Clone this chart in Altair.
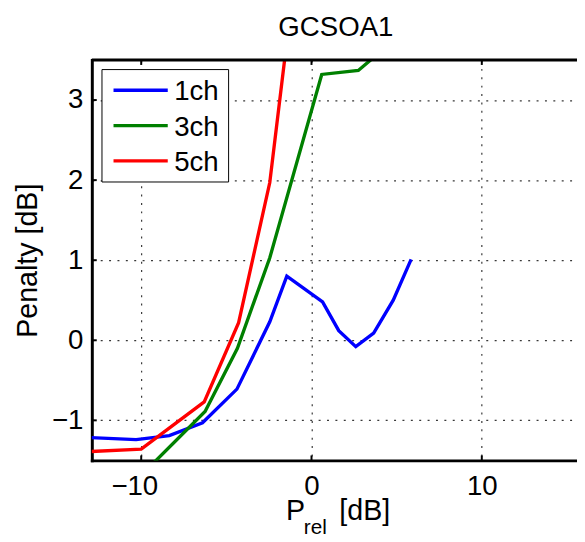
import altair as alt
import pandas as pd

# ---- data ----
series_names = ["1ch", "3ch", "5ch"]
series_colors = ["#0000ff", "#008000", "#ff0000"]

blue_x = [-13.5, -10.3, -8.35, -6.4, -4.38, -2.45, -1.45, 0.65, 1.6, 2.6, 3.65, 4.8, 5.85]
blue_y = [-1.21, -1.24, -1.19, -1.03, -0.61, 0.23, 0.80, 0.48, 0.12, -0.08, 0.09, 0.50, 1.01]

green_x = [-10.3, -6.25, -4.35, -2.45, 0.6, 2.75, 4.8]
green_y = [-1.75, -0.89, -0.10, 1.03, 3.32, 3.37, 3.74]

red_x = [-13.5, -10.0, -6.3, -4.28, -2.45, -0.5]
red_y = [-1.395, -1.36, -0.77, 0.22, 1.97, 5.4]

x_ticks = [-10, 0, 10]
y_ticks = [-1, 0, 1, 2, 3]
x_domain = [-12.9, 15.59]
y_domain = [-1.5, 3.5]

chart_title = "GCSOA1"
y_title = "Penalty [dB]"
x_title_parts = ["P", "rel", "[dB]"]

FONT = "Liberation Sans"
W, H = 492, 406
LW = 3.4

rows = []
for name, xs, ys in zip(series_names, [blue_x, green_x, red_x], [blue_y, green_y, red_y]):
    for i, (xv, yv) in enumerate(zip(xs, ys)):
        rows.append({"series": name, "x": xv, "y": yv, "order": i})
df = pd.DataFrame(rows)

x_scale = alt.Scale(domain=x_domain, nice=False, zero=False)
y_scale = alt.Scale(domain=y_domain, nice=False, zero=False)

grid_kw = dict(grid=True, gridColor="#222222", gridDash=[2, 6.5], gridWidth=1.2, gridOpacity=0.9)

x_axis = alt.Axis(values=x_ticks, title=None, ticks=False, tickSize=0, labelFontSize=28,
                  labelFont=FONT, labelColor="black", labelPadding=35, labelBaseline="alphabetic",
                  labelOffset={"condition": {"test": "datum.value < 0", "value": -7}, "value": 0},
                  domainColor="black", domainWidth=3, domainCap="square", format="d", **grid_kw)
y_axis = alt.Axis(values=y_ticks, title=y_title, ticks=False, tickSize=0, labelFontSize=28,
                  labelFont=FONT, labelColor="black", labelPadding=9, labelBaseline="middle",
                  domainColor="black", domainWidth=3, domainCap="square", format="d",
                  titleFont=FONT, titleFontSize=29, titleFontWeight="normal", titleColor="black",
                  titleX=-56, titleY=H / 2, titleAngle=270, titleAlign="center",
                  titleBaseline="alphabetic", **grid_kw)

lines = alt.Chart(df).mark_line(strokeWidth=LW, clip=True).encode(
    x=alt.X("x:Q", scale=x_scale, axis=x_axis),
    y=alt.Y("y:Q", scale=y_scale, axis=y_axis),
    color=alt.Color("series:N", scale=alt.Scale(domain=series_names, range=series_colors),
                    legend=None),
    order="order:Q",
)

xt = pd.DataFrame({"x": x_ticks})
yt = pd.DataFrame({"y": y_ticks})
tick_b = alt.Chart(xt).mark_rule(color="black", strokeWidth=2).encode(
    x=alt.X("x:Q", scale=x_scale), y=alt.value(H), y2=alt.value(H - 5))
tick_t = alt.Chart(xt).mark_rule(color="black", strokeWidth=2).encode(
    x=alt.X("x:Q", scale=x_scale), y=alt.value(0), y2=alt.value(5))
tick_l = alt.Chart(yt).mark_rule(color="black", strokeWidth=2).encode(
    y=alt.Y("y:Q", scale=y_scale), x=alt.value(0), x2=alt.value(5))

one = pd.DataFrame({"a": [0]})
top_line = alt.Chart(one).mark_rule(color="black", strokeWidth=3).encode(
    x=alt.value(0), x2=alt.value(W), y=alt.value(0))

title_mark = alt.Chart(one).mark_text(text=chart_title, font=FONT, fontSize=28, align="center",
                                      baseline="alphabetic", color="black").encode(
    x=alt.value(247.5), y=alt.value(-24))

t_p = alt.Chart(one).mark_text(text=x_title_parts[0], font=FONT, fontSize=29, align="left",
                               baseline="alphabetic", color="black").encode(
    x=alt.value(197), y=alt.value(466))
t_rel = alt.Chart(one).mark_text(text=x_title_parts[1], font=FONT, fontSize=21, align="left",
                                 baseline="alphabetic", color="black").encode(
    x=alt.value(215), y=alt.value(481))
t_db = alt.Chart(one).mark_text(text=x_title_parts[2], font=FONT, fontSize=29, align="left",
                                baseline="alphabetic", color="black").encode(
    x=alt.value(251), y=alt.value(466))

# legend (box, sample lines, labels)
LX0, LY0, LX1, LY1 = 10.3, 9.7, 138.7, 123.7
row_y0, row_dy = 30.7, 35.8
legend_layers = [alt.Chart(one).mark_rect(fill="white", stroke="black", strokeWidth=1).encode(
    x=alt.value(LX0), x2=alt.value(LX1), y=alt.value(LY0), y2=alt.value(LY1))]
for i, (name, col) in enumerate(zip(series_names, series_colors)):
    yy = row_y0 + row_dy * i
    legend_layers.append(alt.Chart(one).mark_rule(color=col, strokeWidth=LW).encode(
        x=alt.value(22), x2=alt.value(77), y=alt.value(yy)))
    legend_layers.append(alt.Chart(one).mark_text(text=name, font=FONT, fontSize=28, align="left",
                                                  baseline="alphabetic", color="black").encode(
        x=alt.value(83.5), y=alt.value(yy + 10.3)))

chart = alt.layer(lines, tick_b, tick_t, tick_l, top_line, title_mark, t_p, t_rel, t_db,
                  *legend_layers).properties(
    width=W, height=H,
    autosize=alt.AutoSizeParams(type="none"),
    padding={"left": 85, "top": 49, "right": 0, "bottom": 77},
).configure_view(stroke=None).configure(background="white")

chart.save("out.html", embed_options={"renderer": "svg", "actions": False})
